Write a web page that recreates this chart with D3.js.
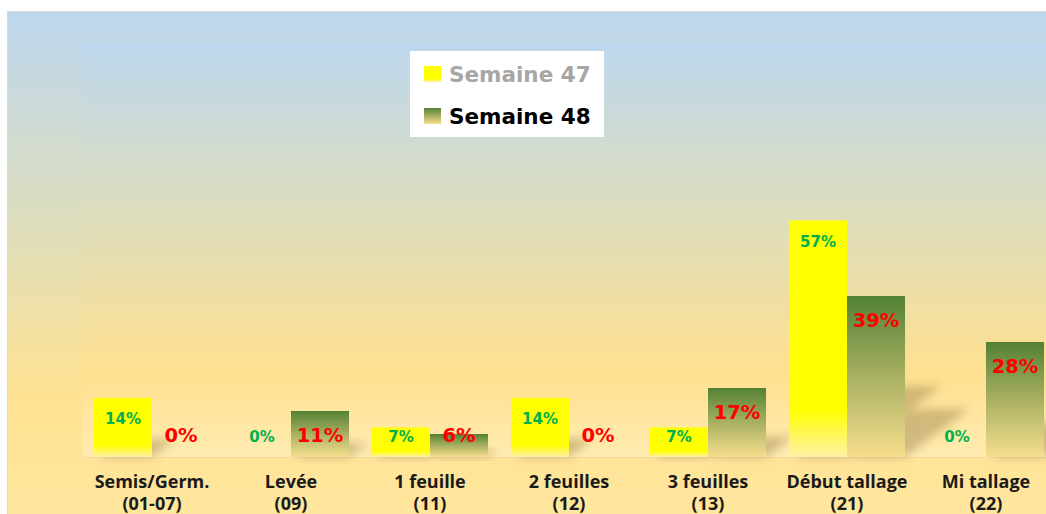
<!DOCTYPE html>
<html>
<head>
<meta charset="utf-8">
<script src="https://cdn.jsdelivr.net/npm/d3@7"></script>
<style>
  body { margin: 0; background: #fff; }
  svg { display: block; }
</style>
</head>
<body>
<div id="chart"></div>
<script>
// data
const categories = ["Semis/Germ.|(01-07)", "Levée|(09)", "1 feuille|(11)", "2 feuilles|(12)",
                    "3 feuilles|(13)", "Début tallage|(21)", "Mi tallage|(22)"];
const series = ["Semaine 47", "Semaine 48"];
const week47 = [14.29, 0, 7.14, 14.29, 7.14, 57.14, 0];
const week48 = [0, 11.11, 5.56, 0, 16.67, 38.89, 27.78];

const width = 1046, height = 514;
const margin = { top: 43, left: 82.5, bottom: 57 };

const svg = d3.select("#chart").append("svg")
    .attr("width", width)
    .attr("height", height);

const defs = svg.append("defs");

function grad(id, stops) {
  const g = defs.append("linearGradient").attr("id", id)
      .attr("x1", 0).attr("y1", 0).attr("x2", 0).attr("y2", 1);
  stops.forEach(s => g.append("stop").attr("offset", s[0]).attr("stop-color", s[1]));
}
grad("bgOuter", [[0, "#BDD7EE"], [0.4, "#DCDDBE"], [0.75, "#FFE292"], [1, "#FFE79F"]]);
grad("bgInner", [[0, "#BDD7EE"], [0.4, "#DCDDBE"], [0.8, "#FFE08F"], [0.95, "#FFE9A9"], [1, "#FFEBB0"]]);
grad("yellowBar", [[0, "#FFFF00"], [0.8, "#FFFF00"], [1, "#FFF1A6"]]);
grad("greenBar", [[0, "#538135"], [0.5, "#A9B062"], [1, "#F6DE8E"]]);

const blur = defs.append("filter").attr("id", "shadowBlur")
    .attr("x", "-50%").attr("y", "-50%").attr("width", "200%").attr("height", "200%");
blur.append("feGaussianBlur").attr("stdDeviation", 5);

// chart frame
svg.append("rect")
    .attr("x", 7.5).attr("y", 11.5)
    .attr("width", width).attr("height", height)
    .attr("fill", "url(#bgOuter)")
    .attr("stroke", "#D9D9D9");

const x0 = d3.scaleBand()
    .domain(categories)
    .range([margin.left, margin.left + 139 * 7])
    .paddingInner(0.165)
    .paddingOuter(0.0825);

const x1 = d3.scaleBand()
    .domain(series)
    .range([0, x0.bandwidth()]);

const y = d3.scaleLinear()
    .domain([0, 100])
    .range([height - margin.bottom, margin.top]);

// plot area
svg.append("rect")
    .attr("x", margin.left).attr("y", margin.top)
    .attr("width", width - margin.left).attr("height", y(0) - margin.top)
    .attr("fill", "url(#bgInner)");
svg.append("line")
    .attr("x1", margin.left).attr("x2", width)
    .attr("y1", y(0) + 0.5).attr("y2", y(0) + 0.5)
    .attr("stroke", "#F2DCA0");

const rows = categories.map((c, i) => ({
  cat: c,
  vals: [{ s: series[0], v: week47[i] }, { s: series[1], v: week48[i] }]
}));

const groups = svg.selectAll(".grp")
    .data(rows)
    .join("g")
    .attr("class", "grp")
    .attr("transform", d => `translate(${x0(d.cat)},0)`);

// soft perspective shadows
groups.selectAll(".shadow")
    .data(d => d.vals.filter(e => e.v > 0))
    .join("polygon")
    .attr("class", "shadow")
    .attr("points", e => {
      const xl = x1(e.s), xr = xl + x1.bandwidth();
      const b = y(0), h = y(0) - y(e.v);
      const dx = h * 0.4, dy = h * 0.3;
      return [[xl + 4, b], [xr, b], [xr + dx, b - dy], [xl + dx, b - dy]].join(" ");
    })
    .attr("fill", "#8C7440")
    .attr("opacity", 0.4)
    .attr("filter", "url(#shadowBlur)");

groups.selectAll(".bar")
    .data(d => d.vals)
    .join("rect")
    .attr("class", "bar")
    .attr("x", e => x1(e.s))
    .attr("width", x1.bandwidth())
    .attr("y", e => y(e.v))
    .attr("height", e => y(0) - y(e.v))
    .attr("fill", e => e.s === series[0] ? "url(#yellowBar)" : "url(#greenBar)");

// data labels
groups.selectAll(".lbl")
    .data(d => d.vals)
    .join("text")
    .attr("class", "lbl")
    .attr("x", e => x1(e.s) + x1.bandwidth() / 2)
    .attr("y", e => e.s === series[0]
        ? Math.min(y(e.v) + 21, y(0) - 20)
        : Math.min(y(e.v) + 24, y(0) - 22))
    .attr("dy", "0.35em")
    .attr("text-anchor", "middle")
    .attr("font-family", "DejaVu Sans, Verdana, sans-serif")
    .attr("font-weight", "bold")
    .attr("font-size", e => e.s === series[0] ? 15 : 19.5)
    .attr("fill", e => e.s === series[0] ? "#00B050" : "#FF0000")
    .text(e => Math.round(e.v) + "%");

// category labels
const catText = svg.selectAll(".cat")
    .data(categories)
    .join("text")
    .attr("class", "cat")
    .attr("text-anchor", "middle")
    .attr("font-family", "Open Sans, sans-serif")
    .attr("font-weight", "bold")
    .attr("font-size", 18)
    .attr("fill", "#1A1A1A");
catText.each(function(d) {
  const parts = d.split("|");
  const cx = x0(d) + x0.bandwidth() / 2;
  parts.forEach((p, k) => {
    d3.select(this).append("tspan")
      .attr("x", cx)
      .attr("y", 488 + k * 22)
      .text(p);
  });
});

// legend
const legend = svg.append("g").attr("transform", "translate(410,51)");
legend.append("rect")
    .attr("width", 194).attr("height", 86)
    .attr("fill", "#FFFFFF");
const item = legend.selectAll(".item")
    .data(series)
    .join("g")
    .attr("class", "item")
    .attr("transform", (d, i) => `translate(14,${15 + i * 42})`);
item.append("rect")
    .attr("width", 17).attr("height", 16)
    .attr("fill", (d, i) => i === 0 ? "url(#yellowBar)" : "url(#greenBar)");
item.append("text")
    .attr("x", 25).attr("y", 16)
    .attr("font-family", "DejaVu Sans, Verdana, sans-serif")
    .attr("font-weight", "bold")
    .attr("font-size", 21.5)
    .attr("fill", (d, i) => i === 0 ? "#A6A6A6" : "#000000")
    .text(d => d);
</script>
</body>
</html>
